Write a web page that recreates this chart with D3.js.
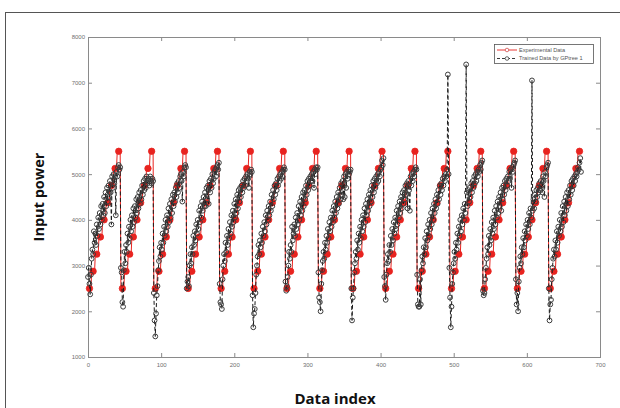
<!DOCTYPE html>
<html>
<head>
<meta charset="utf-8">
<script src="https://cdn.jsdelivr.net/npm/d3@7/dist/d3.min.js"></script>
<style>
  html, body { margin: 0; padding: 0; background: #fff; }
  svg { display: block; }
</style>
</head>
<body>
<svg id="chart" width="620" height="408"></svg>
<script>
// ---------------- DATA ----------------
const xTicks = [0, 100, 200, 300, 400, 500, 600, 700];
const yTicks = [1000, 2000, 3000, 4000, 5000, 6000, 7000, 8000];
const seriesNames = ["Experimental Data", "Trained Data by GPtree 1"];
const axisTitles = { x: "Data index", y: "Input power" };

// Experimental data: a staircase of 9 levels, 5 samples per level, repeated for 15 cycles
const experimentalLevels = [2500, 2875, 3250, 3625, 4000, 4375, 4750, 5125, 5500];
const samplesPerLevel = 5;
const cycleCount = 15;

// Trained data (GPtree 1), one value per data index 0..674
const trained = [
  // cycle 0
  2750, 2950, 2600, 2370, 2800, 3150, 3350, 3250, 3750, 3500, 3700, 3450, 3900, 3650, 4050, 3800, 4150, 3900, 4300, 4000, 4350, 4100, 4500, 4150, 4600, 4300, 4700, 4400, 4750, 4500, 4850, 4600, 3900, 4950, 4700, 5000, 4800, 4950, 4100, 5050, 4950, 5150, 5200, 5100, 5150,
  // cycle 1
  2950, 2850, 2200, 2100, 2900, 3300, 3050, 3450, 3300, 3700, 3500, 3850, 3600, 4000, 3750, 4100, 3850, 4250, 3950, 4300, 4050, 4450, 4150, 4500, 4250, 4600, 4350, 4650, 4450, 4750, 4550, 4850, 4650, 4900, 4700, 4950, 4800, 4850, 4900, 4750, 4950, 4850, 4800, 4900, 4850,
  // cycle 2
  2400, 1800, 1450, 1950, 2350, 2550, 2900, 3100, 3400, 3200, 3500, 3350, 3700, 3500, 3850, 3650, 4000, 3750, 4100, 3850, 4250, 3950, 4350, 4050, 4450, 4150, 4550, 4300, 4600, 4400, 4700, 4500, 4800, 4600, 4850, 4700, 4950, 5000, 4850, 4400, 5050, 4950, 5150, 5200, 5150,
  // cycle 3
  2500, 2650, 2750, 2550, 3000, 3250, 3050, 3400, 3250, 3650, 3450, 3750, 3550, 3900, 3700, 4000, 3800, 4200, 3950, 4300, 4050, 4400, 4200, 4500, 4300, 4600, 4300, 4700, 4450, 4750, 4350, 4850, 4600, 4900, 4700, 5000, 4800, 4900, 5050, 5100, 4950, 5150, 5200, 5100, 5250,
  // cycle 4
  2600, 2200, 2150, 2050, 2700, 3000, 3250, 3100, 3500, 3300, 3650, 3450, 3800, 3600, 3950, 3700, 4100, 3850, 4200, 3950, 4350, 4050, 4450, 4150, 4550, 4250, 4650, 4400, 4700, 4500, 4750, 4600, 4850, 4700, 4900, 4750, 4950, 4850, 5000, 4900, 4700, 5050, 5000, 5100, 5050,
  // cycle 5
  2350, 1650, 1950, 2050, 2400, 2800, 3000, 3200, 3450, 3250, 3550, 3400, 3700, 3500, 3850, 3650, 3950, 3750, 4100, 3900, 4200, 4000, 4300, 4100, 4400, 4200, 4550, 4300, 4650, 4450, 4750, 4550, 4800, 4650, 4900, 4750, 4950, 4850, 5000, 4900, 5050, 4950, 5100, 5150, 5100,
  // cycle 6
  2650, 2450, 2550, 2750, 3000, 3300, 3150, 3450, 3300, 3850, 3550, 3700, 3900, 3650, 4050, 3800, 4150, 3900, 4300, 4000, 4400, 4100, 4500, 4200, 4600, 4300, 4650, 4450, 4750, 4550, 4850, 4650, 4900, 4750, 4950, 4850, 5000, 4850, 5050, 4700, 5100, 5000, 5150, 5100, 5150,
  // cycle 7
  2850, 2300, 2200, 2000, 2600, 2900, 3100, 3300, 3150, 3500, 3350, 3650, 3500, 3800, 3600, 3950, 3750, 4050, 3850, 4200, 3950, 4300, 4050, 4400, 4150, 4500, 4250, 4600, 4350, 4700, 4450, 4800, 4550, 4850, 4450, 4950, 4500, 5000, 4700, 5050, 4900, 5100, 5000, 5050, 5100,
  // cycle 8
  2500, 1800, 2300, 2500, 2850, 3050, 3300, 3150, 3550, 3350, 3700, 3500, 3850, 3600, 4000, 3750, 4100, 3850, 4250, 3950, 4350, 4100, 4450, 4200, 4550, 4300, 4650, 4400, 4750, 4500, 4850, 4600, 4900, 4700, 4950, 4800, 5000, 4850, 5050, 4950, 5100, 5150, 5300, 5200, 5350,
  // cycle 9
  2750, 2550, 2250, 2800, 3050, 3250, 3100, 3450, 3300, 3650, 3450, 3800, 3550, 3950, 3700, 4050, 3800, 4200, 3900, 4300, 4050, 4400, 4150, 4500, 4250, 4600, 4350, 4650, 4450, 4750, 4550, 4800, 4250, 4850, 4650, 4200, 4950, 4750, 5000, 4850, 5050, 4950, 5100, 5150, 5100,
  // cycle 10
  2800, 2150, 2100, 2100, 2700, 2150, 2900, 3200, 3050, 3400, 3250, 3600, 3400, 3750, 3550, 3900, 3650, 4000, 3800, 4150, 3900, 4250, 4000, 4350, 4150, 4450, 4250, 4550, 4350, 4650, 4450, 4750, 4550, 4800, 4650, 4900, 4750, 4950, 4850, 5000, 4950, 5100, 7180, 5000, 2950,
  // cycle 11
  2300, 1650, 2100, 2600, 2850, 3050, 3300, 3150, 3500, 3350, 3700, 3500, 3850, 3650, 4000, 3750, 4100, 3900, 4250, 4000, 4350, 4150, 7400, 4600, 4300, 4650, 4400, 4700, 4500, 4800, 4600, 4850, 4700, 4950, 4800, 5000, 4850, 5050, 4950, 5100, 5050, 5200, 5100, 5250, 5300,
  // cycle 12
  2450, 2350, 2400, 2700, 2950, 3150, 3400, 3250, 3650, 3450, 3800, 3550, 3950, 3700, 4050, 3800, 4200, 3900, 4300, 4050, 4400, 4150, 4500, 4300, 4600, 4200, 4700, 4450, 4750, 4550, 4850, 4650, 4900, 4750, 4950, 4850, 5050, 4900, 5100, 4700, 5150, 5050, 5200, 5250, 5300,
  // cycle 13
  2700, 2150, 2400, 2000, 2650, 2950, 3200, 3050, 3400, 3250, 3600, 3400, 3750, 3550, 3900, 3650, 4000, 3800, 4150, 3900, 4250, 4050, 7050, 4200, 4450, 4250, 4550, 4400, 4650, 4500, 4700, 4600, 4800, 4650, 4850, 4750, 4600, 4950, 4850, 4500, 5050, 4950, 5150, 5200, 5250,
  // cycle 14
  2500, 1800, 2150, 2250, 2700, 2950, 3150, 3350, 3200, 3550, 3350, 3750, 3500, 3850, 3650, 4000, 3750, 4150, 3850, 4300, 3950, 4400, 4100, 4500, 4200, 4600, 4300, 4650, 4450, 4750, 4550, 4850, 4650, 4900, 4750, 4950, 4850, 5000, 4950, 5050, 5150, 5100, 5250, 5350, 5050
];

// build experimental series from the read staircase
const experimental = [];
for (let c = 0; c < cycleCount; c++) {
  experimentalLevels.forEach(v => { for (let k = 0; k < samplesPerLevel; k++) experimental.push(v); });
}
// marker shown at the middle sample of each level
const markerOffset = Math.floor(samplesPerLevel / 2);

// ---------------- DRAW ----------------
const svg = d3.select("#chart");
const plot = { left: 88, right: 600, top: 37, bottom: 357 };

const x = d3.scaleLinear().domain([0, 700]).range([plot.left, plot.right]);
const y = d3.scaleLinear().domain([1000, 8000]).range([plot.bottom, plot.top]);

// outer figure frame
svg.append("rect")
  .attr("x", 5.5).attr("y", 12.5).attr("width", 640).attr("height", 420)
  .attr("fill", "none").attr("stroke", "#555").attr("stroke-width", 1);

const axisColor = "#8a8a8a";
const labelColor = "#6f6f6f";
const tickFont = "Liberation Sans, Arial, sans-serif";

function styleAxis(g, showLabels) {
  g.select(".domain").remove();
  g.selectAll(".tick line").attr("stroke", axisColor);
  g.selectAll(".tick text")
    .attr("fill", labelColor)
    .style("font-family", tickFont)
    .style("font-size", "6px");
  if (!showLabels) g.selectAll(".tick text").remove();
}

svg.append("g").attr("transform", `translate(0,${plot.bottom})`)
  .call(d3.axisBottom(x).tickValues(xTicks).tickSize(-4).tickPadding(6).tickFormat(d3.format("d")))
  .call(g => styleAxis(g, true));
svg.append("g").attr("transform", `translate(0,${plot.top})`)
  .call(d3.axisTop(x).tickValues(xTicks).tickSize(-4))
  .call(g => styleAxis(g, false));
svg.append("g").attr("transform", `translate(${plot.left},0)`)
  .call(d3.axisLeft(y).tickValues(yTicks).tickSize(-4).tickPadding(3).tickFormat(d3.format("d")))
  .call(g => styleAxis(g, true));
svg.append("g").attr("transform", `translate(${plot.right},0)`)
  .call(d3.axisRight(y).tickValues(yTicks).tickSize(-4))
  .call(g => styleAxis(g, false));

// plot box
svg.append("rect")
  .attr("x", plot.left + 0.5).attr("y", plot.top + 0.5)
  .attr("width", plot.right - plot.left).attr("height", plot.bottom - plot.top)
  .attr("fill", "none").attr("stroke", axisColor).attr("stroke-width", 1);

const red = "#e8231f";
const line = d3.line().x((d, i) => x(i)).y(d => y(d));

// experimental series
svg.append("path").datum(experimental)
  .attr("d", line).attr("fill", "none").attr("stroke", red).attr("stroke-width", 1);
svg.append("g").selectAll("circle")
  .data(experimental.map((v, i) => ({ v, i })).filter(d => d.i % samplesPerLevel === markerOffset))
  .join("circle")
  .attr("cx", d => x(d.i)).attr("cy", d => y(d.v)).attr("r", 3.2)
  .attr("fill", red).attr("stroke", red).attr("stroke-width", 0.8);

// trained series
svg.append("path").datum(trained)
  .attr("d", line).attr("fill", "none").attr("stroke", "#1a1a1a")
  .attr("stroke-width", 1).attr("stroke-dasharray", "4,2.5");
svg.append("g").selectAll("circle").data(trained).join("circle")
  .attr("cx", (d, i) => x(i)).attr("cy", d => y(d)).attr("r", 2.4)
  .attr("fill", "none").attr("stroke", "#3c3c3c").attr("stroke-width", 1);

// legend
const lg = svg.append("g");
lg.append("rect").attr("x", 494.5).attr("y", 44.5).attr("width", 99).attr("height", 19)
  .attr("fill", "#fff").attr("stroke", "#555").attr("stroke-width", 0.8);
const legendRows = [
  { y: 50, color: red, dash: null, text: seriesNames[0], mark: "#d05050" },
  { y: 58.5, color: "#222", dash: "3,2", text: seriesNames[1], mark: "#444" }
];
legendRows.forEach(r => {
  lg.append("line").attr("x1", 497).attr("x2", 517).attr("y1", r.y).attr("y2", r.y)
    .attr("stroke", r.color).attr("stroke-width", 0.9).attr("stroke-dasharray", r.dash);
  lg.append("circle").attr("cx", 507).attr("cy", r.y).attr("r", 1.8)
    .attr("fill", "#fff").attr("stroke", r.mark).attr("stroke-width", 0.8);
  lg.append("text").attr("x", 519).attr("y", r.y).attr("dy", "0.35em")
    .attr("fill", "#555").style("font-family", tickFont).style("font-size", "5.6px")
    .text(r.text);
});

// axis titles
svg.append("text")
  .attr("x", 335).attr("y", 404)
  .attr("text-anchor", "middle")
  .style("font-family", "Open Sans, sans-serif").style("font-weight", "700").style("font-size", "15px")
  .attr("fill", "#111").text(axisTitles.x);
svg.append("text")
  .attr("transform", `translate(44,${(plot.top + plot.bottom) / 2}) rotate(-90)`)
  .attr("text-anchor", "middle")
  .style("font-family", "Open Sans, sans-serif").style("font-weight", "700").style("font-size", "14.5px")
  .attr("fill", "#111").text(axisTitles.y);
</script>
</body>
</html>
